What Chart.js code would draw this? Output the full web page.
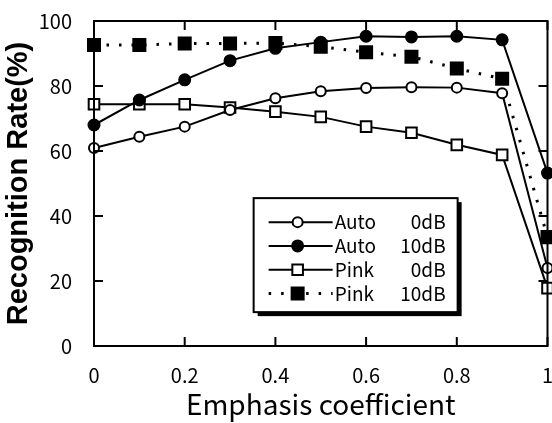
<!DOCTYPE html>
<html>
<head>
<meta charset="utf-8">
<script src="https://cdn.jsdelivr.net/npm/chart.js@4/dist/chart.umd.min.js"></script>
<style>
  html, body { margin: 0; padding: 0; background: #fff; overflow: hidden; }
  /* a bit wider than the window: the plot's right edge sits at the window edge like the original */
  #wrap { width: 558px; height: 423px; position: relative; }
</style>
</head>
<body>
<div id="wrap"><canvas id="chart"></canvas></div>
<script>
// ---- data ----
const emphasis = [0, 0.1, 0.2, 0.3, 0.4, 0.5, 0.6, 0.7, 0.8, 0.9, 1.0];
const auto0dB  = [60.9, 64.4, 67.5, 72.6, 76.2, 78.4, 79.4, 79.6, 79.5, 77.8, 24.0];
const auto10dB = [68.0, 75.7, 81.9, 87.8, 91.6, 93.5, 95.3, 95.1, 95.3, 94.2, 53.2];
const pink0dB  = [74.4, 74.4, 74.4, 73.4, 72.1, 70.5, 67.5, 65.6, 61.9, 58.8, 17.8];
const pink10dB = [92.6, 92.6, 93.1, 93.1, 93.2, 92.1, 90.4, 89.0, 85.4, 82.2, 33.5];

const seriesNames = ['Auto', 'Auto', 'Pink', 'Pink'];
const noiseLevels = ['0dB', '10dB', '0dB', '10dB'];
const xTicks = [0, 0.2, 0.4, 0.6, 0.8, 1];
const yTicks = [0, 20, 40, 60, 80, 100];

const tickFont = "'Noto Sans CJK JP', 'Noto Sans', sans-serif";

function pts(ys) { return emphasis.map((x, i) => ({ x, y: ys[i] })); }

// ---- styles per series ----
const styles = [
  { style: 'circle', fill: '#fff', radius: 5,   dash: [] },
  { style: 'circle', fill: '#000', radius: 5.5, dash: [] },
  { style: 'rect',   fill: '#fff', radius: 7.5, dash: [] },
  { style: 'rect',   fill: '#000', radius: 8.5, dash: [2.5, 10] },
];
const allSeries = [auto0dB, auto10dB, pink0dB, pink10dB];

const datasets = allSeries.map((ys, i) => ({
  label: seriesNames[i] + ' ' + noiseLevels[i],
  data: pts(ys),
  borderColor: '#000',
  borderWidth: i === 3 ? 3 : 2,
  borderDash: styles[i].dash,
  pointStyle: styles[i].style,
  pointRadius: styles[i].radius,
  pointBackgroundColor: styles[i].fill,
  pointBorderColor: '#000',
  pointBorderWidth: 2,
  tension: 0,
  clip: false,
}));

const noPadding = () => ({ left: 0, right: 0, top: 0, bottom: 0 });

// frame with inward ticks on all four sides
const framePlugin = {
  id: 'frame',
  afterDatasetsDraw(chart) {
    const { ctx, chartArea: a, scales } = chart;
    const len = 9;
    ctx.save();
    ctx.strokeStyle = '#000';
    ctx.lineWidth = 2;
    ctx.strokeRect(a.left, a.top, a.right - a.left, a.bottom - a.top);
    ctx.beginPath();
    xTicks.forEach(v => {
      const px = scales.x.getPixelForValue(v);
      ctx.moveTo(px, a.bottom); ctx.lineTo(px, a.bottom - len);
      ctx.moveTo(px, a.top); ctx.lineTo(px, a.top + len);
    });
    yTicks.forEach(v => {
      const py = scales.y.getPixelForValue(v);
      ctx.moveTo(a.left, py); ctx.lineTo(a.left + len, py);
      ctx.moveTo(a.right, py); ctx.lineTo(a.right - len, py);
    });
    ctx.stroke();
    ctx.restore();
  }
};

// boxed legend with a drop shadow, inside the plot
const legendPlugin = {
  id: 'boxLegend',
  afterDraw(chart) {
    const { ctx, chartArea: a } = chart;
    const bx = a.left + 0.352 * (a.right - a.left);
    const by = a.top + 0.545 * (a.bottom - a.top);
    const bw = 204, bh = 114, sh = 4;
    ctx.save();
    ctx.fillStyle = '#000';
    ctx.fillRect(bx + sh, by + sh, bw, bh);
    ctx.fillStyle = '#fff';
    ctx.fillRect(bx, by, bw, bh);
    ctx.strokeStyle = '#000';
    ctx.lineWidth = 2;
    ctx.strokeRect(bx, by, bw, bh);

    ctx.font = "19px " + tickFont;
    ctx.textBaseline = 'middle';
    chart.data.datasets.forEach((ds, i) => {
      const y = by + 24 + i * 23.8;
      const x0 = bx + 15, x1 = bx + 79, xm = bx + 44;
      ctx.strokeStyle = '#000';
      ctx.lineWidth = ds.borderWidth;
      ctx.setLineDash(ds.borderDash);
      ctx.beginPath();
      ctx.moveTo(x0, y); ctx.lineTo(x1, y);
      ctx.stroke();
      ctx.setLineDash([]);
      ctx.lineWidth = 2;
      ctx.fillStyle = ds.pointBackgroundColor;
      Chart.helpers.drawPoint(ctx, {
        pointStyle: ds.pointStyle, radius: ds.pointRadius, borderWidth: 2, rotation: 0
      }, xm, y);
      ctx.fillStyle = '#000';
      ctx.textAlign = 'left';
      ctx.fillText(seriesNames[i], x1 + 2, y);
      ctx.textAlign = 'right';
      ctx.fillText(noiseLevels[i], bx + 192, y);
    });
    ctx.restore();
  }
};

new Chart(document.getElementById('chart'), {
  type: 'line',
  data: { datasets },
  options: {
    responsive: true,
    maintainAspectRatio: false,
    animation: false,
    layout: { padding: { top: 21, right: 0, left: 0, bottom: 0 } },
    plugins: { legend: { display: false }, tooltip: { enabled: false } },
    scales: {
      x: {
        type: 'linear', min: 0, max: 1,
        afterBuildTicks: s => { s.ticks = xTicks.map(v => ({ value: v })); },
        afterFit: s => { s.height = 77; s.getPadding = noPadding; },
        grid: { display: false },
        border: { display: false },
        ticks: {
          padding: 9, color: '#000',
          font: { family: tickFont, size: 20 },
          callback: v => String(v)
        },
        title: {
          display: true, text: 'Emphasis coefficient', color: '#000',
          font: { family: tickFont, size: 28 },
          padding: { top: 0, bottom: 2 }
        }
      },
      y: {
        min: 0, max: 100,
        afterBuildTicks: s => { s.ticks = yTicks.map(v => ({ value: v })); },
        afterFit: s => { s.width = 94; s.getPadding = noPadding; },
        grid: { display: false },
        border: { display: false },
        ticks: {
          padding: 14, color: '#000',
          font: { family: tickFont, size: 20 }
        },
        title: {
          display: true, text: 'Recognition Rate(%)', color: '#000',
          font: { family: "'Liberation Sans', Arial, sans-serif", size: 29, weight: 'bold' },
          padding: { top: 2, bottom: 0 }
        }
      }
    }
  },
  plugins: [framePlugin, legendPlugin]
});
</script>
</body>
</html>
